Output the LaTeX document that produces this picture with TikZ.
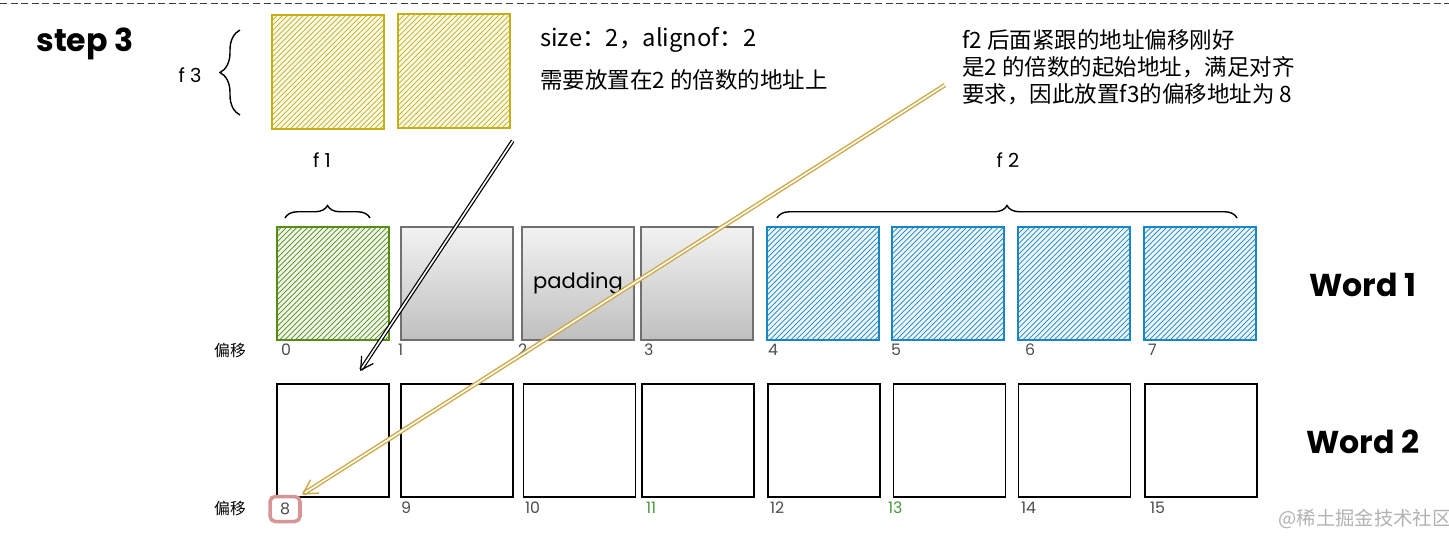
\documentclass[tikz,border=0pt]{standalone}
\usepackage{fontspec}
\setmainfont{Poppins}
\newfontfamily\cjk{Noto Sans CJK SC}
\usetikzlibrary{positioning,arrows.meta,patterns,decorations.pathreplacing}
\definecolor{accentyellow}{RGB}{196,176,20}
\definecolor{accentgreen}{RGB}{84,140,22}
\definecolor{accentblue}{RGB}{24,134,196}
\definecolor{padgray}{RGB}{112,112,112}
\definecolor{markpink}{RGB}{214,150,150}
\definecolor{arrowgold}{RGB}{206,168,70}
\definecolor{labelgreen}{RGB}{70,150,60}
\begin{document}
\begin{tikzpicture}[x=0.02cm, y=-0.02cm, font=\fontsize{11}{13}\selectfont,
    cell/.style={rectangle, minimum width=2.24cm, minimum height=2.26cm, inner sep=0pt, line width=0.9pt},
    hatchbox/.style={cell, draw=#1, pattern=north east lines, pattern color=#1, preaction={fill=#1!8}},
    padbox/.style={cell, draw=padgray, top color=gray!10, bottom color=gray!50},
    wordbox/.style={cell, draw=black},
    offset/.style={anchor=west, inner sep=1pt, font=\fontsize{9}{9}\selectfont, text=black!70},
    bigword/.style={font=\fontsize{18}{18}\selectfont\bfseries},
    note/.style={font=\cjk\fontsize{12.8}{15.3}\selectfont, align=left, inner sep=0pt}]
  \useasboundingbox (0,0) rectangle (1449,535);
  \draw[black!75, dash pattern=on 4pt off 2pt] (0,3) -- (1449,3);
  \node[bigword] (step) at (85,44) {step 3};

  % f3 on top
  \node[hatchbox=accentyellow, minimum height=2.28cm] (f3a) at (328,72) {};
  \node[hatchbox=accentyellow, minimum height=2.28cm] (f3b) at (454,71) {};
  \draw[thick, decorate, decoration={brace, amplitude=0.4cm}] (240,115) -- (240,30);
  \node (lf3) at (190,75) {f 3};
  \node[note, anchor=west, font=\cjk\fontsize{13.5}{15}\selectfont] (size) at (540,40) {size：2，alignof：2};
  \node[note, anchor=west] (need) at (540,80) {需要放置在2 的倍数的地址上};
  \node[note, anchor=north west] (why) at (962,29) {f2 后面紧跟的地址偏移刚好\\是2 的倍数的起始地址，满足对齐\\要求，因此放置f3的偏移地址为 8};

  % word 1
  \node[hatchbox=accentgreen] (w1a) at (333,283.5) {};
  \node[padbox] (w1b) at (457,283.5) {};
  \node[padbox, font=\fontsize{12}{12}\selectfont] (w1c) at (578,283.5) {padding};
  \node[padbox] (w1d) at (697,283.5) {};
  \node[hatchbox=accentblue] (w1e) at (823,283.5) {};
  \node[hatchbox=accentblue] (w1f) at (948,283.5) {};
  \node[hatchbox=accentblue] (w1g) at (1074,283.5) {};
  \node[hatchbox=accentblue] (w1h) at (1200,283.5) {};
  \draw[thick, decorate, decoration={brace, amplitude=0.25cm}] (285,218) -- (370,218);
  \node (lf1) at (322,160) {f 1};
  \draw[thick, decorate, decoration={brace, amplitude=0.25cm}] (777,218) -- (1237,218);
  \node (lf2) at (1008,160) {f 2};
  \node[bigword] (word1) at (1363,285) {Word 1};
  \node[font=\cjk\fontsize{9}{9}\selectfont] (off1) at (230,350) {偏移};
  \node[offset] (o0) at (279,350) {0};
  \node[offset] (o1) at (396,350) {1};
  \node[offset] (o2) at (516,350) {2};
  \node[offset] (o3) at (642,350) {3};
  \node[offset] (o4) at (766,350) {4};
  \node[offset] (o5) at (889,350) {5};
  \node[offset] (o6) at (1023,350) {6};
  \node[offset] (o7) at (1146,350) {7};

  % word 2
  \node[wordbox] (w2a) at (333,440.5) {};
  \node[wordbox] (w2b) at (457,440.5) {};
  \node[wordbox] (w2c) at (579.5,440.5) {};
  \node[wordbox] (w2d) at (698,440.5) {};
  \node[wordbox] (w2e) at (824,440.5) {};
  \node[wordbox] (w2f) at (949.5,440.5) {};
  \node[wordbox] (w2g) at (1074.5,440.5) {};
  \node[wordbox] (w2h) at (1201,440.5) {};
  \node[bigword] (word2) at (1363,442) {Word 2};
  \node[font=\cjk\fontsize{9}{9}\selectfont] (off2) at (230,508) {偏移};
  \node[offset, anchor=center, draw=markpink, line width=2pt, rounded corners=3pt, minimum width=0.6cm, minimum height=0.5cm] (o8) at (285,509) {8};
  \node[offset] (o9) at (399,508) {9};
  \node[offset] (o10) at (523,508) {10};
  \node[offset, text=labelgreen] (o11) at (644,508) {11};
  \node[offset] (o12) at (768,508) {12};
  \node[offset, text=labelgreen] (o13) at (886,508) {13};
  \node[offset] (o14) at (1019,508) {14};
  \node[offset] (o15) at (1148,508) {15};
  \node[font=\cjk\fontsize{11}{11}\selectfont, text=black!30] (mark) at (1365,519) {@稀土掘金技术社区};

  % arrows
  \coordinate (drop) at (360,371);
  \coordinate (tail) at (945,85);
  \draw[black, double=white, double distance=0.9pt, line width=0.7pt, -{Straight Barb[length=7pt, width=8pt]}] ([shift={(2,12)}]f3b.south east) -- (drop);
  \draw[arrowgold, double=white, double distance=0.9pt, line width=0.8pt, -{Straight Barb[length=8pt, width=9pt]}] (tail) -- (o8.north east);
\end{tikzpicture}
\end{document}
